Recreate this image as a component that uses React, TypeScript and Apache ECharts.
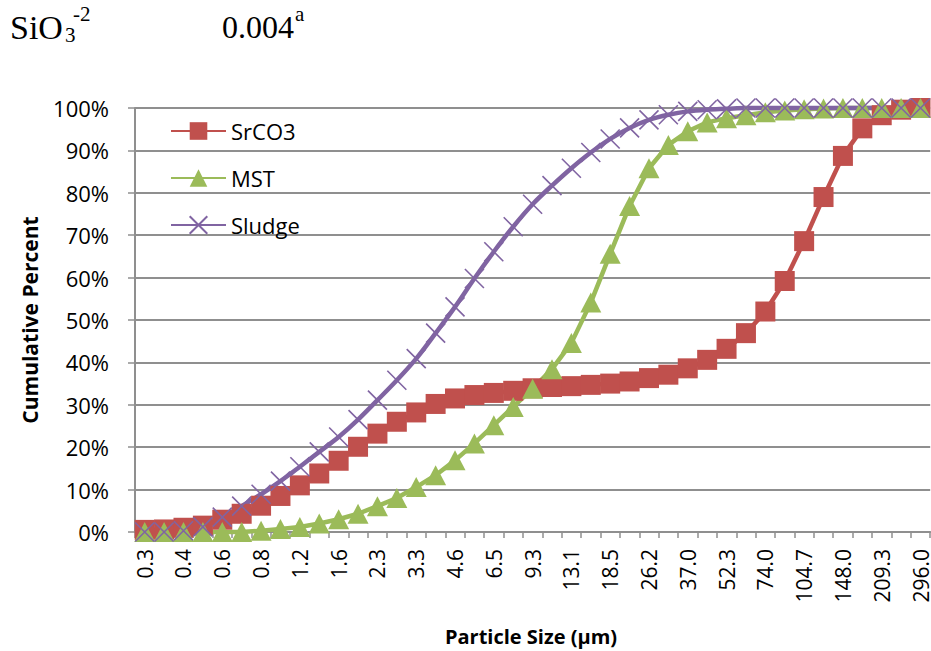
import React, { useEffect, useRef } from "react";
import * as echarts from "echarts";

// Particle size channels (µm)
const sizes = [
  0.289, 0.344, 0.409, 0.486, 0.578, 0.688, 0.818, 0.972, 1.156, 1.375, 1.635,
  1.945, 2.312, 2.75, 3.27, 3.89, 4.62, 5.5, 6.54, 7.78, 9.25, 11.0, 13.08,
  15.56, 18.5, 22.0, 26.16, 31.11, 37.0, 44.0, 52.33, 62.23, 74.0, 88.0, 104.7,
  124.5, 148.0, 176.0, 209.3, 248.9, 296.0,
];

const srco3 = [
  0.5, 0.6, 1.0, 1.5, 2.9, 4.3, 6.2, 8.5, 11.0, 13.8, 16.8, 20.1, 23.2, 26.0,
  28.2, 30.2, 31.5, 32.3, 32.8, 33.3, 33.9, 34.2, 34.4, 34.7, 35.0, 35.5, 36.3,
  37.1, 38.6, 40.6, 43.2, 46.9, 52.0, 59.2, 68.6, 79.0, 88.7, 95.2, 98.3, 99.6,
  100,
];

const mst = [
  0, 0, 0, 0, 0, 0, 0.3, 0.7, 1.2, 2.0, 3.0, 4.3, 6.1, 8.0, 10.6, 13.4, 16.9,
  20.9, 25.2, 29.5, 33.8, 38.4, 44.6, 54.1, 65.6, 76.9, 85.8, 91.3, 94.5, 96.6,
  97.6, 98.3, 99.0, 99.4, 99.7, 99.9, 100, 100, 100, 100, 100,
];

const sludge = [
  0, 0, 0.3, 1.2, 3.5, 6.1, 8.9, 12.0, 15.4, 18.9, 22.4, 26.5, 31.1, 35.8, 40.9,
  46.9, 53.1, 59.8, 66.1, 72.0, 77.3, 81.7, 85.8, 89.5, 92.7, 95.3, 97.2, 98.4,
  99.2, 99.6, 99.8, 100, 100, 100, 100, 100, 100, 100, 100, 100, 100,
];

const seriesNames = ["SrCO3", "MST", "Sludge"];
const yTitle = "Cumulative Percent";
const xTitle = "Particle Size (µm)";

const FONT = "'Open Sans', 'Noto Sans', sans-serif";
const SERIF = "'Liberation Serif', 'DejaVu Serif', serif";
const GRID_COLOR = "#8f8f8f";

export default function App() {
  const ref = useRef<HTMLDivElement>(null);

  useEffect(() => {
    if (!ref.current) return;
    const chart = echarts.init(ref.current, null, { renderer: "svg" });
    const option: any = {
      animation: false,
      textStyle: { fontFamily: FONT },
      grid: { left: 135, top: 108, width: 796, height: 424, containLabel: false },
      legend: {
        orient: "vertical",
        left: 170,
        top: 120,
        padding: 0,
        itemWidth: 55,
        itemHeight: 22,
        itemGap: 25,
        textStyle: { fontSize: 22, color: "#000", fontFamily: FONT },
        data: seriesNames,
      },
      xAxis: {
        type: "category",
        data: sizes.map(String),
        boundaryGap: true,
        axisLine: { lineStyle: { color: GRID_COLOR, width: 2 } },
        axisTick: {
          show: true,
          interval: 0,
          length: 6,
          lineStyle: { color: GRID_COLOR, width: 1.5 },
        },
        axisLabel: {
          interval: 1,
          rotate: 90,
          margin: 17,
          color: "#000",
          fontSize: 21,
          lineHeight: 18,
          fontFamily: FONT,
          formatter: (v: string) => Number(v).toFixed(1),
        },
        splitLine: { show: false },
      },
      yAxis: {
        type: "value",
        min: 0,
        max: 100,
        interval: 10,
        axisLine: { show: true, lineStyle: { color: GRID_COLOR, width: 2 } },
        axisTick: {
          show: true,
          length: 7,
          lineStyle: { color: GRID_COLOR, width: 1.5 },
        },
        axisLabel: {
          formatter: "{value}%",
          margin: 26,
          color: "#000",
          fontSize: 22,
          fontFamily: FONT,
        },
        splitLine: { lineStyle: { color: GRID_COLOR, width: 2 } },
      },
      series: [
        {
          name: seriesNames[0],
          type: "line",
          data: srco3,
          symbol: "rect",
          symbolSize: 20,
          showSymbol: true,
          showAllSymbol: true,
          clip: false,
          lineStyle: { color: "#C0504D", width: 4.5 },
          itemStyle: { color: "#C0504D", borderWidth: 0 },
        },
        {
          name: seriesNames[1],
          type: "line",
          data: mst,
          symbol: "triangle",
          symbolSize: [21, 20],
          showSymbol: true,
          showAllSymbol: true,
          clip: false,
          lineStyle: { color: "#9BBB59", width: 4.5 },
          itemStyle: { color: "#9BBB59", borderWidth: 0 },
        },
        {
          name: seriesNames[2],
          type: "line",
          data: sludge,
          smooth: 0.35,
          symbol: "path://M0,0L10,10M10,0L0,10",
          symbolSize: 19,
          showSymbol: true,
          showAllSymbol: true,
          clip: false,
          lineStyle: { color: "#8064A2", width: 4.5 },
          itemStyle: {
            color: "#8064A2",
            borderColor: "#8064A2",
            borderWidth: 1.6,
          },
        },
      ],
      graphic: [
        {
          type: "text",
          left: 10,
          top: 10,
          style: { text: "SiO", font: `34px ${SERIF}`, fill: "#000" },
        },
        {
          type: "text",
          left: 65,
          top: 24,
          style: { text: "3", font: `21px ${SERIF}`, fill: "#000" },
        },
        {
          type: "text",
          left: 73,
          top: 3,
          style: { text: "-2", font: `21px ${SERIF}`, fill: "#000" },
        },
        {
          type: "text",
          left: 222,
          top: 11,
          style: { text: "0.004", font: `32px ${SERIF}`, fill: "#000" },
        },
        {
          type: "text",
          left: 295,
          top: 3,
          style: { text: "a", font: `21px ${SERIF}`, fill: "#000" },
        },
        {
          type: "text",
          x: 30,
          y: 320,
          rotation: Math.PI / 2,
          style: {
            text: yTitle,
            font: `bold 21px ${FONT}`,
            fill: "#000",
            align: "center",
            verticalAlign: "middle",
          },
        },
        {
          type: "text",
          x: 531,
          y: 636,
          style: {
            text: xTitle,
            font: `bold 20px ${FONT}`,
            fill: "#000",
            align: "center",
            verticalAlign: "middle",
          },
        },
      ],
    };
    chart.setOption(option);
    return () => chart.dispose();
  }, []);

  return (
    <div
      ref={ref}
      style={{
        position: "absolute",
        left: 0,
        top: 0,
        width: 931,
        height: 651,
        background: "#fff",
      }}
    />
  );
}
